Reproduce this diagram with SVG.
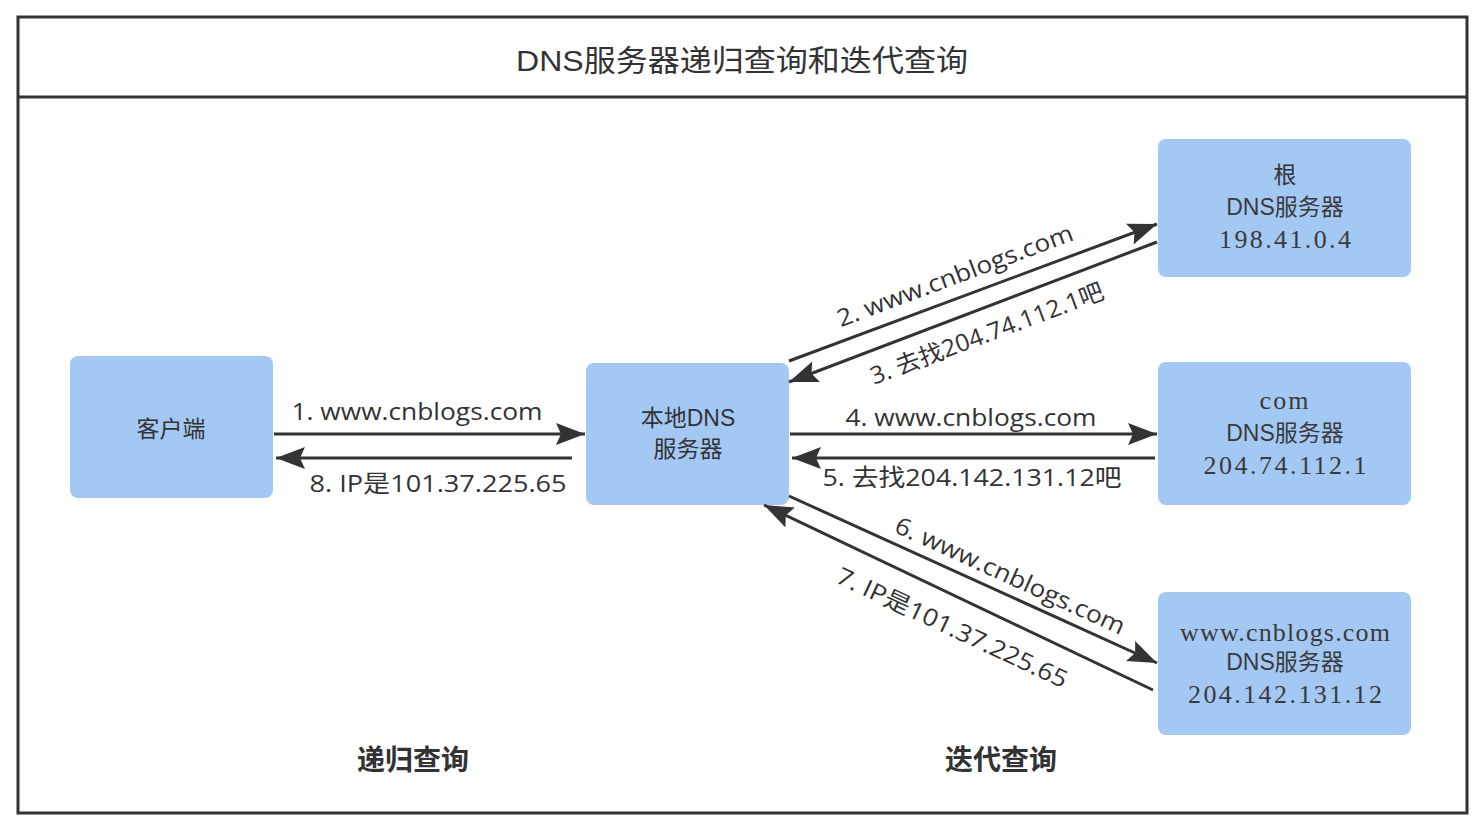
<svg xmlns="http://www.w3.org/2000/svg" width="1484" height="828" viewBox="0 0 1484 828">
<style>
.node{fill:#a4c8f4;stroke:none}
.t{font-family:"Liberation Sans","Noto Sans CJK SC",sans-serif;fill:#333;text-anchor:middle}
.m{font-family:"Liberation Sans","Noto Sans CJK SC",sans-serif;fill:#3a3a3a;text-anchor:middle;font-size:23px}
.s{font-family:"Liberation Serif","Noto Sans CJK SC",serif;fill:#3a3a3a;text-anchor:middle;font-size:26px}
.lbl{font-family:"Open Sans","Noto Sans CJK SC",sans-serif;fill:#333;text-anchor:middle;font-size:24px}
.conn{stroke:#333;stroke-width:3;fill:none;marker-end:url(#arr)}
.bold{font-family:"Noto Sans CJK SC",sans-serif;font-weight:bold;fill:#333;text-anchor:middle;font-size:28px}
</style>
<defs>
<marker id="arr" markerUnits="userSpaceOnUse" markerWidth="31" markerHeight="24" refX="29" refY="12" orient="auto">
<path d="M0,1 L29,12 L0,23 L5,12 Z" fill="#333"/>
</marker>
</defs>
<rect x="0" y="0" width="1484" height="828" fill="#fff"/>
<g id="frame">
<rect x="18" y="17" width="1449" height="796" fill="#fff" stroke="#333" stroke-width="3"/>
<line x1="18" y1="97" x2="1467" y2="97" stroke="#333" stroke-width="3"/>
<text class="t" x="742" y="71" font-size="30" textLength="452" lengthAdjust="spacingAndGlyphs">DNS服务器递归查询和迭代查询</text>
</g>
<g id="client">
<rect class="node" x="70" y="356" width="203" height="142" rx="8"/>
<text class="t" x="171" y="437" font-size="23">客户端</text>
</g>
<g id="local-dns">
<rect class="node" x="586" y="363" width="203" height="142" rx="8"/>
<text class="t" x="688" y="426" font-size="23">本地DNS</text>
<text class="t" x="688" y="457" font-size="23">服务器</text>
</g>
<g id="root-dns">
<rect class="node" x="1158" y="139" width="253" height="138" rx="8"/>
<text class="t" x="1285" y="183" font-size="23">根</text>
<text class="m" x="1285" y="215">DNS服务器</text>
<text class="s" x="1285" y="248" textLength="132" lengthAdjust="spacing">198.41.0.4</text>
</g>
<g id="com-dns">
<rect class="node" x="1158" y="362" width="253" height="143" rx="8"/>
<text class="s" x="1285" y="409" font-size="20" letter-spacing="2">com</text>
<text class="m" x="1285" y="441">DNS服务器</text>
<text class="s" x="1285" y="474" textLength="163" lengthAdjust="spacing">204.74.112.1</text>
</g>
<g id="www-dns">
<rect class="node" x="1158" y="592" width="253" height="143" rx="8"/>
<text class="s" x="1285" y="641" textLength="210" lengthAdjust="spacing">www.cnblogs.com</text>
<text class="m" x="1285" y="670">DNS服务器</text>
<text class="s" x="1285" y="703" textLength="194" lengthAdjust="spacing">204.142.131.12</text>
</g>
<g id="connectors">
<line class="conn" x1="274" y1="434" x2="585" y2="434"/>
<line class="conn" x1="572" y1="458" x2="276" y2="458"/>
<line class="conn" x1="789" y1="361" x2="1157" y2="224"/>
<line class="conn" x1="1157" y1="242" x2="789" y2="382"/>
<line class="conn" x1="790" y1="434" x2="1157" y2="434"/>
<line class="conn" x1="1155" y1="458" x2="792" y2="458"/>
<line class="conn" x1="789" y1="496" x2="1157" y2="663"/>
<line class="conn" x1="1153" y1="690" x2="764" y2="505"/>
</g>
<g id="labels">
<text class="lbl" x="417" y="420" textLength="251" lengthAdjust="spacingAndGlyphs">1. www.cnblogs.com</text>
<text class="lbl" x="438" y="492" textLength="257" lengthAdjust="spacingAndGlyphs">8. IP是101.37.225.65</text>
<text class="lbl" x="971" y="426" textLength="251" lengthAdjust="spacingAndGlyphs">4. www.cnblogs.com</text>
<text class="lbl" x="972" y="486" textLength="299" lengthAdjust="spacingAndGlyphs">5. 去找204.142.131.12吧</text>
<g transform="translate(955,276) rotate(-20.5)"><text class="lbl" x="0" y="8" textLength="250" lengthAdjust="spacingAndGlyphs">2. www.cnblogs.com</text></g>
<g transform="translate(987,334) rotate(-20.5)"><text class="lbl" x="0" y="8" textLength="247" lengthAdjust="spacingAndGlyphs">3. 去找204.74.112.1吧</text></g>
<g transform="translate(1010,576) rotate(24.5)"><text class="lbl" x="0" y="8" textLength="250" lengthAdjust="spacingAndGlyphs">6. www.cnblogs.com</text></g>
<g transform="translate(952,628) rotate(25)"><text class="lbl" x="0" y="8" textLength="252" lengthAdjust="spacingAndGlyphs">7. IP是101.37.225.65</text></g>
<text class="bold" x="413" y="770">递归查询</text>
<text class="bold" x="1001" y="770">迭代查询</text>
</g>
</svg>
